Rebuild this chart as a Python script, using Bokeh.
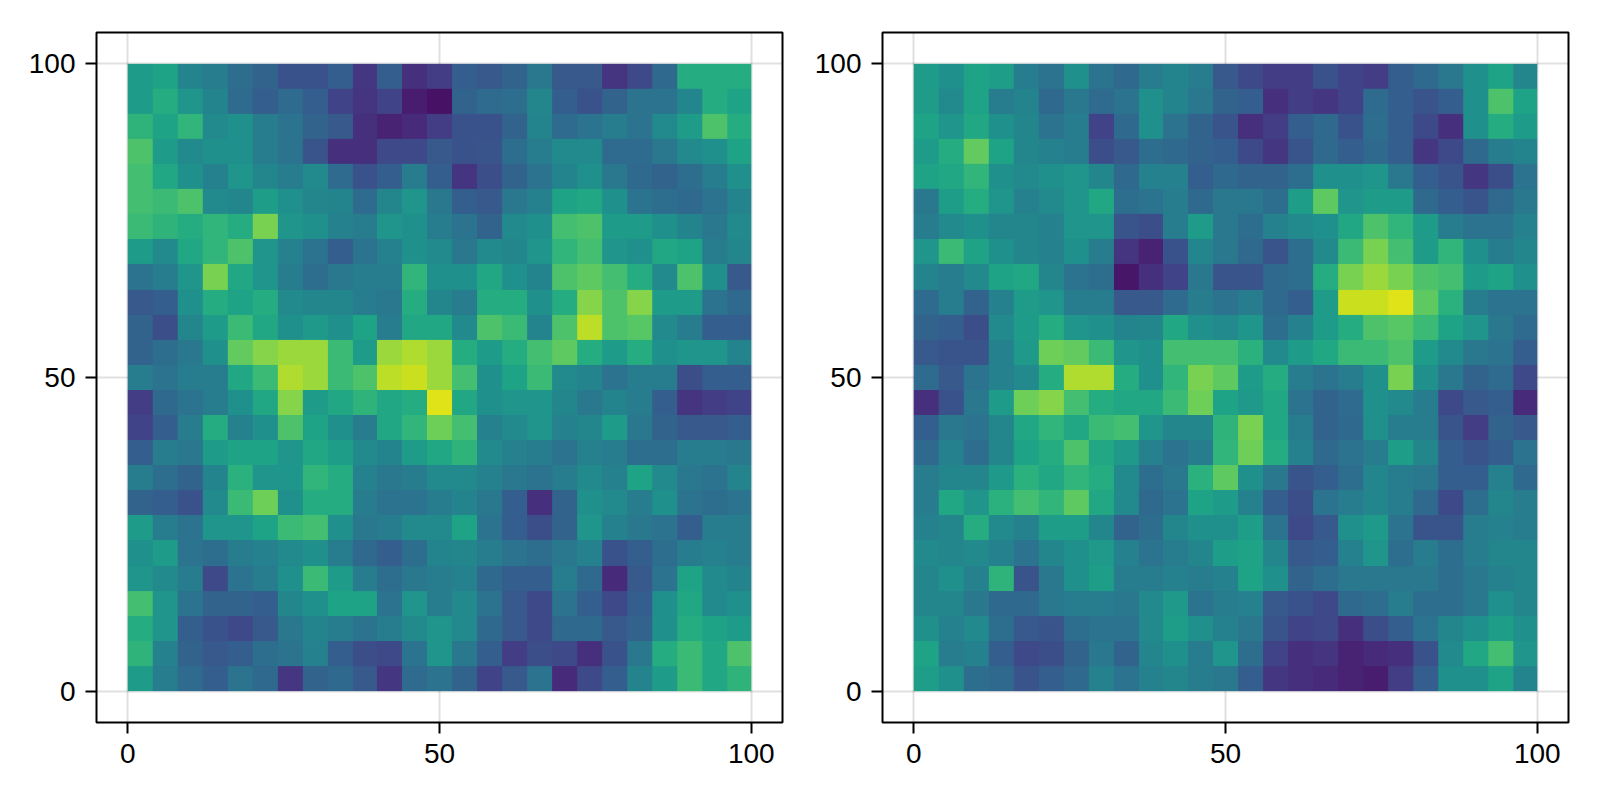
import numpy as np
from bokeh.embed import file_html
from bokeh.layouts import row
from bokeh.models import FixedTicker, LinearColorMapper, Range1d
from bokeh.palettes import Viridis256
from bokeh.plotting import figure
from bokeh.resources import INLINE

# values, on a 0-100 colour scale, rows from the top (y=100) down
left_rows = [
    [55, 58, 45, 42, 36, 32, 25, 25, 30, 16, 30, 14, 18, 30, 28, 32, 40, 28, 28, 15, 22, 34, 62, 62, 62],
    [55, 62, 52, 45, 35, 30, 35, 30, 20, 15, 20, 8, 5, 32, 35, 36, 46, 30, 25, 32, 38, 38, 46, 62, 58],
    [65, 58, 66, 48, 50, 42, 38, 32, 28, 14, 10, 12, 18, 25, 25, 32, 45, 35, 38, 42, 38, 48, 55, 72, 62],
    [72, 55, 48, 50, 50, 42, 38, 26, 14, 14, 22, 22, 28, 25, 26, 36, 42, 48, 48, 35, 35, 40, 48, 50, 58],
    [70, 60, 50, 44, 52, 46, 42, 48, 35, 25, 30, 42, 30, 15, 24, 32, 38, 45, 50, 40, 34, 32, 36, 42, 50],
    [70, 68, 72, 48, 46, 56, 50, 46, 45, 35, 46, 52, 40, 30, 28, 40, 44, 58, 60, 50, 38, 36, 34, 38, 45],
    [68, 65, 62, 66, 62, 80, 52, 50, 44, 42, 52, 50, 42, 38, 32, 48, 50, 70, 72, 55, 55, 50, 45, 40, 48],
    [55, 48, 60, 66, 72, 52, 44, 38, 30, 38, 44, 50, 48, 40, 48, 46, 52, 66, 70, 52, 50, 60, 58, 42, 46],
    [38, 42, 52, 80, 60, 52, 42, 36, 40, 42, 42, 66, 50, 50, 60, 50, 45, 72, 75, 70, 62, 48, 72, 50, 28],
    [28, 30, 50, 62, 58, 62, 48, 46, 46, 42, 40, 62, 46, 42, 62, 62, 50, 62, 82, 72, 82, 55, 55, 38, 34],
    [32, 24, 46, 55, 68, 60, 50, 54, 50, 58, 42, 60, 60, 48, 72, 68, 45, 72, 90, 72, 74, 48, 42, 30, 30],
    [32, 36, 40, 50, 76, 82, 85, 85, 68, 55, 85, 88, 85, 62, 55, 62, 70, 75, 62, 55, 62, 50, 52, 52, 45],
    [42, 38, 42, 42, 60, 68, 88, 85, 68, 72, 90, 92, 85, 70, 50, 58, 68, 48, 45, 38, 42, 42, 24, 30, 30],
    [18, 34, 38, 42, 50, 60, 82, 55, 60, 65, 60, 62, 95, 60, 50, 52, 52, 46, 40, 45, 42, 30, 15, 18, 20],
    [20, 30, 42, 62, 44, 50, 72, 58, 50, 42, 60, 66, 78, 70, 44, 48, 52, 44, 46, 55, 40, 32, 28, 28, 30],
    [30, 42, 40, 55, 58, 58, 52, 60, 56, 48, 45, 55, 60, 65, 48, 44, 42, 38, 44, 42, 36, 36, 42, 42, 40],
    [42, 36, 32, 45, 64, 52, 52, 66, 62, 44, 40, 42, 48, 48, 44, 40, 38, 42, 48, 44, 58, 48, 40, 38, 45],
    [32, 30, 25, 48, 68, 78, 50, 62, 62, 42, 38, 38, 42, 45, 40, 30, 14, 32, 50, 48, 42, 50, 38, 36, 38],
    [55, 42, 38, 52, 52, 58, 68, 70, 50, 40, 42, 48, 48, 58, 38, 30, 24, 32, 52, 44, 40, 38, 30, 42, 42],
    [50, 55, 38, 36, 42, 44, 48, 50, 42, 34, 30, 36, 45, 46, 42, 38, 36, 40, 44, 25, 30, 36, 42, 44, 42],
    [52, 48, 42, 22, 38, 42, 50, 68, 55, 42, 36, 40, 42, 44, 34, 30, 30, 42, 34, 12, 28, 38, 58, 48, 45],
    [70, 52, 38, 32, 32, 30, 46, 50, 58, 58, 38, 52, 42, 48, 38, 28, 22, 38, 30, 22, 30, 50, 60, 48, 50],
    [62, 52, 30, 25, 22, 28, 40, 45, 42, 38, 42, 48, 52, 48, 34, 28, 22, 34, 34, 28, 32, 50, 62, 58, 55],
    [65, 44, 32, 28, 30, 36, 38, 44, 30, 24, 22, 38, 52, 40, 30, 18, 24, 22, 14, 25, 40, 62, 68, 60, 72],
    [55, 42, 35, 30, 38, 34, 16, 32, 34, 28, 16, 35, 38, 32, 20, 28, 38, 12, 22, 30, 45, 55, 68, 60, 65],
]
right_rows = [
    [55, 50, 58, 56, 42, 38, 50, 38, 34, 42, 45, 42, 28, 22, 18, 18, 25, 20, 18, 30, 34, 40, 50, 58, 46],
    [55, 48, 58, 42, 45, 34, 40, 35, 38, 50, 45, 40, 32, 30, 14, 18, 16, 20, 35, 30, 26, 30, 50, 72, 58],
    [58, 52, 60, 50, 46, 38, 42, 20, 34, 50, 38, 32, 26, 14, 18, 30, 34, 25, 36, 30, 22, 14, 50, 62, 55],
    [55, 62, 76, 58, 46, 44, 42, 24, 28, 36, 34, 32, 30, 22, 16, 26, 34, 30, 34, 30, 16, 22, 34, 42, 45],
    [58, 60, 66, 50, 48, 50, 52, 46, 34, 44, 44, 30, 34, 32, 32, 36, 50, 50, 52, 40, 30, 26, 16, 24, 38],
    [40, 56, 62, 52, 44, 48, 52, 60, 36, 38, 42, 34, 40, 40, 36, 56, 75, 52, 55, 55, 34, 30, 26, 34, 40],
    [42, 48, 50, 46, 46, 44, 52, 52, 26, 24, 42, 55, 40, 36, 44, 48, 50, 60, 72, 66, 55, 42, 38, 38, 44],
    [52, 68, 58, 50, 46, 44, 50, 42, 15, 10, 25, 46, 40, 34, 26, 36, 48, 68, 80, 70, 55, 66, 50, 42, 46],
    [45, 42, 48, 58, 60, 46, 38, 36, 6, 14, 20, 40, 26, 26, 34, 36, 62, 80, 85, 80, 72, 70, 55, 58, 50],
    [35, 42, 32, 44, 55, 52, 42, 42, 28, 28, 35, 42, 38, 42, 34, 30, 55, 92, 92, 95, 75, 64, 42, 38, 38],
    [32, 30, 24, 48, 55, 62, 52, 50, 45, 46, 60, 50, 48, 52, 36, 44, 55, 62, 72, 74, 68, 58, 52, 40, 35],
    [28, 26, 26, 44, 54, 78, 76, 68, 52, 50, 70, 70, 70, 64, 48, 55, 60, 68, 68, 72, 55, 48, 40, 38, 30],
    [35, 28, 38, 44, 48, 62, 88, 88, 62, 50, 66, 80, 75, 55, 62, 42, 38, 42, 50, 80, 50, 40, 32, 35, 22],
    [14, 25, 40, 55, 78, 82, 70, 62, 60, 60, 68, 78, 58, 54, 60, 38, 32, 35, 50, 48, 42, 22, 28, 30, 12],
    [30, 40, 38, 46, 60, 66, 60, 68, 70, 52, 46, 46, 65, 80, 60, 42, 32, 34, 50, 42, 42, 26, 18, 32, 28],
    [34, 44, 36, 46, 58, 62, 72, 60, 54, 44, 38, 42, 66, 78, 62, 44, 34, 38, 42, 56, 46, 30, 26, 30, 38],
    [42, 46, 46, 54, 64, 60, 66, 62, 48, 36, 40, 64, 75, 50, 40, 26, 30, 36, 46, 42, 40, 30, 30, 44, 34],
    [42, 60, 52, 64, 70, 66, 75, 60, 48, 34, 38, 58, 55, 44, 30, 24, 38, 42, 46, 42, 34, 22, 36, 46, 42],
    [44, 46, 62, 48, 44, 56, 56, 46, 32, 36, 46, 50, 50, 56, 38, 22, 28, 50, 54, 38, 26, 26, 42, 44, 42],
    [48, 46, 48, 44, 38, 46, 50, 54, 44, 38, 42, 46, 56, 58, 46, 28, 30, 44, 52, 36, 42, 36, 42, 46, 46],
    [46, 50, 44, 65, 26, 40, 50, 56, 42, 42, 44, 42, 44, 58, 50, 32, 36, 40, 40, 40, 40, 36, 40, 44, 46],
    [46, 46, 40, 34, 34, 40, 42, 42, 40, 48, 54, 38, 42, 44, 28, 25, 22, 34, 36, 42, 36, 36, 40, 50, 46],
    [50, 44, 48, 36, 28, 26, 36, 38, 38, 48, 56, 50, 44, 40, 26, 20, 22, 14, 24, 30, 38, 46, 50, 56, 50],
    [58, 42, 44, 30, 22, 24, 32, 40, 32, 46, 50, 42, 52, 36, 20, 14, 15, 10, 12, 14, 25, 48, 60, 70, 52],
    [56, 50, 36, 34, 26, 30, 34, 44, 38, 44, 46, 42, 40, 30, 16, 14, 12, 10, 8, 18, 30, 50, 50, 58, 45],
]
ticks = [0, 50, 100]


def panel(rows, width, border_left):
    p = figure(width=width, height=782, output_backend="svg", toolbar_location=None,
               x_range=Range1d(-5, 105), y_range=Range1d(-5, 105),
               min_border_left=border_left, min_border_right=10,
               min_border_top=32, min_border_bottom=60)
    p.background_fill_color = "white"
    p.border_fill_color = "white"
    p.outline_line_color = "black"
    p.outline_line_width = 2

    mapper = LinearColorMapper(palette=Viridis256, low=0, high=100)
    p.image(image=[np.array(rows, dtype=float)[::-1]], x=0, y=0, dw=100, dh=100, color_mapper=mapper)

    for ax in [p.xaxis[0], p.yaxis[0]]:
        ax.ticker = FixedTicker(ticks=ticks)
        ax.axis_line_color = None
        ax.major_tick_line_color = "black"
        ax.major_tick_line_width = 2
        ax.major_tick_in = 0
        ax.major_tick_out = 11
        ax.minor_tick_line_color = None
        ax.major_label_text_font = "Liberation Sans"
        ax.major_label_text_font_size = "28px"
        ax.major_label_text_color = "black"
        ax.major_label_standoff = 10
    for g in [p.xgrid[0], p.ygrid[0]]:
        g.ticker = FixedTicker(ticks=ticks)
        g.grid_line_color = "black"
        g.grid_line_alpha = 0.12
        g.grid_line_width = 2
    return p


p1 = panel(left_rows, 792, 96)
p2 = panel(right_rows, 786, 90)
p = row(p1, p2, spacing=0)
open("out.html", "w").write(file_html(p, INLINE))
